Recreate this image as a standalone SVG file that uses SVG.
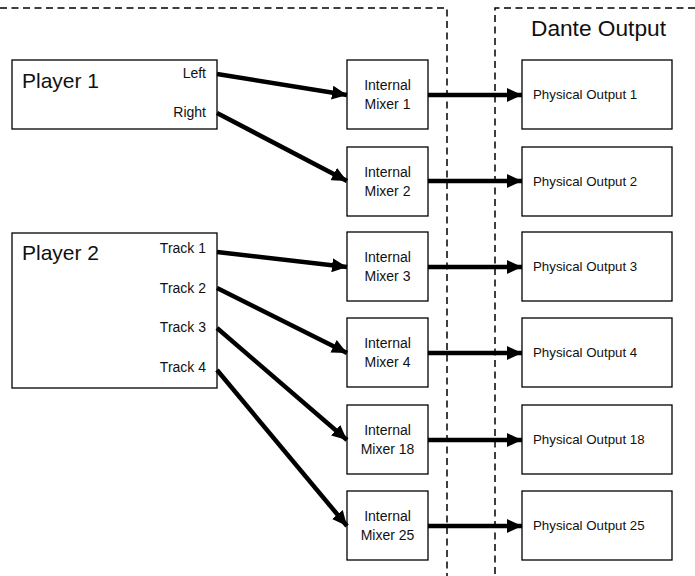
<svg xmlns="http://www.w3.org/2000/svg" width="695" height="576" viewBox="0 0 695 576">
<style>
.box{fill:#fff;stroke:#000;stroke-width:1.3}
.dash{fill:none;stroke:#000;stroke-width:1.5;stroke-dasharray:7 4.5}
.t{font-family:"Liberation Sans",Arial,sans-serif;fill:#111}
.big{font-size:21px}
.sm{font-size:14px}
.po{font-size:13.3px}
.mid{text-anchor:middle}
.end{text-anchor:end}
.arr{stroke:#000;stroke-width:4.5;fill:none;marker-end:url(#ah)}
</style>
<defs>
<marker id="ah" markerUnits="userSpaceOnUse" markerWidth="16" markerHeight="14" refX="15" refY="7" orient="auto">
<path d="M0,0 L15,7 L0,14 Z" fill="#000"/>
</marker>
</defs>
<rect width="695" height="576" fill="#fff"/>
<g id="boundaries">
<path class="dash" d="M0,8 H447 V576"/>
<path class="dash" d="M695,8 H495 V576"/>
<text class="t" x="531" y="36" font-size="22.7">Dante Output</text>
</g>
<g id="player1">
<rect class="box" x="12" y="60" width="205" height="69"/>
<text class="t big" x="22" y="88">Player 1</text>
<text class="t sm end" x="206" y="78">Left</text>
<text class="t sm end" x="206" y="117">Right</text>
</g>
<g id="player2">
<rect class="box" x="12" y="233" width="205" height="155"/>
<text class="t big" x="22" y="260">Player 2</text>
<text class="t sm end" x="206" y="253">Track 1</text>
<text class="t sm end" x="206" y="293">Track 2</text>
<text class="t sm end" x="206" y="332">Track 3</text>
<text class="t sm end" x="206" y="372">Track 4</text>
</g>
<g id="mixer1"><rect class="box" x="347" y="60" width="81" height="69"/><text class="t sm mid" x="387.5" y="90">Internal</text><text class="t sm mid" x="387.5" y="109">Mixer 1</text></g>
<g id="mixer2"><rect class="box" x="347" y="147" width="81" height="69"/><text class="t sm mid" x="387.5" y="177">Internal</text><text class="t sm mid" x="387.5" y="196">Mixer 2</text></g>
<g id="mixer3"><rect class="box" x="347" y="232" width="81" height="69"/><text class="t sm mid" x="387.5" y="262">Internal</text><text class="t sm mid" x="387.5" y="281">Mixer 3</text></g>
<g id="mixer4"><rect class="box" x="347" y="318" width="81" height="69"/><text class="t sm mid" x="387.5" y="348">Internal</text><text class="t sm mid" x="387.5" y="367">Mixer 4</text></g>
<g id="mixer18"><rect class="box" x="347" y="405" width="81" height="69"/><text class="t sm mid" x="387.5" y="435">Internal</text><text class="t sm mid" x="387.5" y="454">Mixer 18</text></g>
<g id="mixer25"><rect class="box" x="347" y="491" width="81" height="69"/><text class="t sm mid" x="387.5" y="521">Internal</text><text class="t sm mid" x="387.5" y="540">Mixer 25</text></g>
<g id="out1"><rect class="box" x="522" y="60" width="150" height="69"/><text class="t po" x="533" y="99">Physical Output 1</text></g>
<g id="out2"><rect class="box" x="522" y="147" width="150" height="69"/><text class="t po" x="533" y="186">Physical Output 2</text></g>
<g id="out3"><rect class="box" x="522" y="232" width="150" height="69"/><text class="t po" x="533" y="271">Physical Output 3</text></g>
<g id="out4"><rect class="box" x="522" y="318" width="150" height="69"/><text class="t po" x="533" y="357">Physical Output 4</text></g>
<g id="out18"><rect class="box" x="522" y="405" width="150" height="69"/><text class="t po" x="533" y="444">Physical Output 18</text></g>
<g id="out25"><rect class="box" x="522" y="491" width="150" height="69"/><text class="t po" x="533" y="530">Physical Output 25</text></g>
<g id="connectors">
<line class="arr" x1="217" y1="74" x2="347" y2="95"/>
<line class="arr" x1="217" y1="113" x2="347" y2="181"/>
<line class="arr" x1="217" y1="252" x2="347" y2="267"/>
<line class="arr" x1="217" y1="288" x2="347" y2="353"/>
<line class="arr" x1="217" y1="328" x2="347" y2="440"/>
<line class="arr" x1="217" y1="370" x2="347" y2="526"/>
<line class="arr" x1="428" y1="95" x2="522" y2="95"/>
<line class="arr" x1="428" y1="181" x2="522" y2="181"/>
<line class="arr" x1="428" y1="267" x2="522" y2="267"/>
<line class="arr" x1="428" y1="353" x2="522" y2="353"/>
<line class="arr" x1="428" y1="440" x2="522" y2="440"/>
<line class="arr" x1="428" y1="526" x2="522" y2="526"/>
</g>
</svg>
